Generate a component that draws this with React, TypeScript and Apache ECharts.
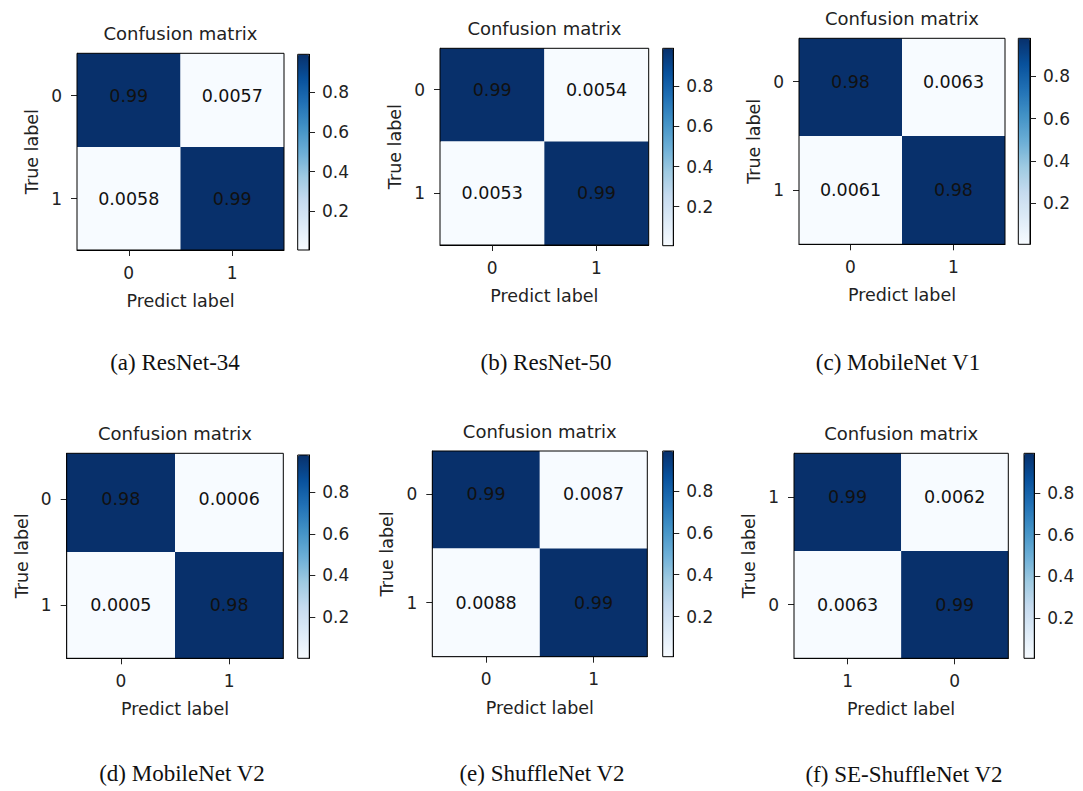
import React, { useEffect, useRef } from 'react';
import * as echarts from 'echarts';

// ---------- data ----------
const captions = [
  '(a) ResNet-34',
  '(b) ResNet-50',
  '(c) MobileNet V1',
  '(d) MobileNet V2',
  '(e) ShuffleNet V2',
  '(f) SE-ShuffleNet V2',
];
const chartTitle = 'Confusion matrix';
const xAxisName = 'Predict label';
const yAxisName = 'True label';

const xTickLabels = [
  ['0', '1'],
  ['0', '1'],
  ['0', '1'],
  ['0', '1'],
  ['0', '1'],
  ['1', '0'],
];
const yTickLabels = [
  ['0', '1'],
  ['0', '1'],
  ['0', '1'],
  ['0', '1'],
  ['0', '1'],
  ['1', '0'],
];

// rows top to bottom, columns left to right
const matrixA = [[0.99, 0.0057], [0.0058, 0.99]];
const matrixB = [[0.99, 0.0054], [0.0053, 0.99]];
const matrixC = [[0.98, 0.0063], [0.0061, 0.98]];
const matrixD = [[0.98, 0.0006], [0.0005, 0.98]];
const matrixE = [[0.99, 0.0087], [0.0088, 0.99]];
const matrixF = [[0.99, 0.0062], [0.0063, 0.99]];
const matrices = [matrixA, matrixB, matrixC, matrixD, matrixE, matrixF];

const cellTickPositions = [0, 1];
const colorbarTicks = [0.2, 0.4, 0.6, 0.8];

// ---------- styles / layout ----------
const blues = ['#f7fbff', '#deebf7', '#c6dbef', '#9ecae1', '#6baed6', '#4292c6', '#2171b5', '#08519c', '#08306b'];
const SANS = "'DejaVu Sans', sans-serif";
const SERIF = "'Liberation Serif', 'Times New Roman', serif";
const INK = '#222';

const layouts = [
  { box: [77, 53.3, 284, 250], cb: [297.7, 54.3, 309, 250], cap: [175, 362], yMin: -0.41 },
  { box: [440, 48.3, 648.7, 245], cb: [662.7, 48.3, 673.3, 245.7], cap: [546, 362], yMin: -0.4 },
  { box: [799, 38.3, 1005, 244.3], cb: [1018.3, 38.3, 1030, 244.3], cap: [898, 362], yMin: -0.4 },
  { box: [66.7, 453.3, 283.3, 658.3], cb: [297.7, 455, 309.3, 658.3], cap: [182, 773], yMin: -0.43 },
  { box: [432.3, 451, 647.3, 656.7], cb: [662.7, 451, 673.3, 656.7], cap: [542, 773], yMin: -0.4 },
  { box: [794, 453.3, 1008.3, 658.3], cb: [1024, 453.3, 1034.3, 658.3], cap: [904, 774], yMin: -0.41 },
];

const fmt = (v: number) => String(Number(v.toPrecision(2)));

export default function App() {
  const ref = useRef<HTMLDivElement>(null);

  useEffect(() => {
    const chart = echarts.init(ref.current as HTMLDivElement, null, { renderer: 'svg' });
    const grid: any[] = [];
    const xAxis: any[] = [];
    const yAxis: any[] = [];
    const series: any[] = [];
    const visualMap: any[] = [];
    const graphic: any[] = [];

    layouts.forEach((L, i) => {
      const [bl, bt, br, bb] = L.box;
      const [cl, ct, cr, cbm] = L.cb;
      const m = matrices[i];
      const flat = m.flat();
      const vmin = Math.min(...flat);
      const vmax = Math.max(...flat);
      const gi = i * 2;
      const ci = i * 2 + 1;

      grid.push({
        left: bl, top: bt, width: br - bl, height: bb - bt,
        show: true, borderColor: '#000', borderWidth: 1, backgroundColor: 'transparent',
        z: 5, containLabel: false, outerBoundsMode: 'none',
      });
      grid.push({
        left: cl, top: ct, width: cr - cl, height: cbm - ct,
        show: true, borderColor: '#000', borderWidth: 1, backgroundColor: 'transparent',
        z: 10, containLabel: false, outerBoundsMode: 'none',
      });

      const xl = xTickLabels[i];
      const yl = yTickLabels[i];

      xAxis.push({
        gridIndex: gi, type: 'value', min: -0.5, max: 1.5, position: 'bottom',
        name: xAxisName, nameLocation: 'middle', nameGap: 42,
        nameTextStyle: { fontFamily: SANS, fontSize: 17.5, color: INK },
        axisLine: { show: true, onZero: false, lineStyle: { color: '#000', width: 1 } },
        axisTick: { show: true, customValues: cellTickPositions, length: 6, lineStyle: { color: INK, width: 1 } },
        axisLabel: {
          show: true, customValues: cellTickPositions, margin: 14,
          formatter: (v: number) => xl[Math.round(v)],
          fontFamily: SANS, fontSize: 17, color: INK,
        },
        splitLine: { show: false },
      });
      yAxis.push({
        gridIndex: gi, type: 'value', min: L.yMin, max: 1.5, inverse: true, position: 'left',
        name: yAxisName, nameLocation: 'middle', nameGap: 36, nameRotate: 90,
        nameTextStyle: { fontFamily: SANS, fontSize: 17.5, color: INK },
        axisLine: { show: true, onZero: false, lineStyle: { color: '#000', width: 1 } },
        axisTick: { show: true, customValues: cellTickPositions, length: 6, lineStyle: { color: INK, width: 1 } },
        axisLabel: {
          show: true, customValues: cellTickPositions, margin: 15,
          formatter: (v: number) => yl[Math.round(v)],
          fontFamily: SANS, fontSize: 17, color: INK,
        },
        splitLine: { show: false },
      });

      // colorbar axes
      xAxis.push({ gridIndex: ci, type: 'value', min: 0, max: 1, show: false });
      yAxis.push({
        gridIndex: ci, type: 'value', min: vmin, max: vmax, position: 'right',
        axisLine: { show: true, onZero: false, lineStyle: { color: '#000', width: 1 } },
        axisTick: { show: true, customValues: colorbarTicks, length: 6, lineStyle: { color: INK, width: 1 } },
        axisLabel: {
          show: true, customValues: colorbarTicks, margin: 13,
          formatter: (v: number) => v.toFixed(1),
          fontFamily: SANS, fontSize: 17, color: INK,
        },
        splitLine: { show: false },
      });

      const data: number[][] = [];
      m.forEach((row, r) => row.forEach((v, c) => data.push([c, r, v])));

      series.push({
        type: 'custom',
        xAxisIndex: gi,
        yAxisIndex: gi,
        clip: true,
        z: 2,
        encode: { x: 0, y: 1 },
        data,
        silent: true,
        renderItem: (params: any, api: any) => {
          const x = api.value(0);
          const y = api.value(1);
          const v = api.value(2);
          const p0 = api.coord([x - 0.5, y - 0.5]);
          const p1 = api.coord([x + 0.5, y + 0.5]);
          const c = api.coord([x, y]);
          return {
            type: 'group',
            children: [
              {
                type: 'rect',
                shape: {
                  x: Math.min(p0[0], p1[0]),
                  y: Math.min(p0[1], p1[1]),
                  width: Math.abs(p1[0] - p0[0]),
                  height: Math.abs(p1[1] - p0[1]),
                },
                style: { fill: api.visual('color') },
              },
              {
                type: 'text',
                x: c[0],
                y: c[1],
                style: {
                  text: fmt(v),
                  fill: '#111',
                  fontFamily: SANS,
                  fontSize: 17.5,
                  align: 'center',
                  verticalAlign: 'middle',
                  textAlign: 'center',
                  textVerticalAlign: 'middle',
                },
              },
            ],
          };
        },
      });

      visualMap.push({
        type: 'continuous',
        seriesIndex: i,
        dimension: 2,
        min: vmin,
        max: vmax,
        calculable: false,
        hoverLink: false,
        inRange: { color: blues },
        left: cl,
        top: ct,
        itemWidth: cr - cl,
        itemHeight: cbm - ct,
        padding: 0,
        borderWidth: 0,
        orient: 'vertical',
        z: 4,
      });

      graphic.push({
        type: 'text',
        x: (bl + br) / 2,
        y: bt - 20,
        silent: true,
        style: {
          text: chartTitle, fill: INK, fontFamily: SANS, fontSize: 18,
          align: 'center', verticalAlign: 'middle', textAlign: 'center', textVerticalAlign: 'middle',
        },
      });
      graphic.push({
        type: 'text',
        x: L.cap[0],
        y: L.cap[1],
        silent: true,
        style: {
          text: captions[i], fill: '#111', fontFamily: SERIF, fontSize: 23,
          align: 'center', verticalAlign: 'middle', textAlign: 'center', textVerticalAlign: 'middle',
        },
      });
    });

    chart.setOption({
      animation: false,
      backgroundColor: '#fff',
      grid,
      xAxis,
      yAxis,
      series,
      visualMap,
      graphic,
    });
    return () => chart.dispose();
  }, []);

  return (
    <div
      ref={ref}
      style={{ position: 'fixed', left: 0, top: 0, width: 1083, height: 791, background: '#fff' }}
    />
  );
}
